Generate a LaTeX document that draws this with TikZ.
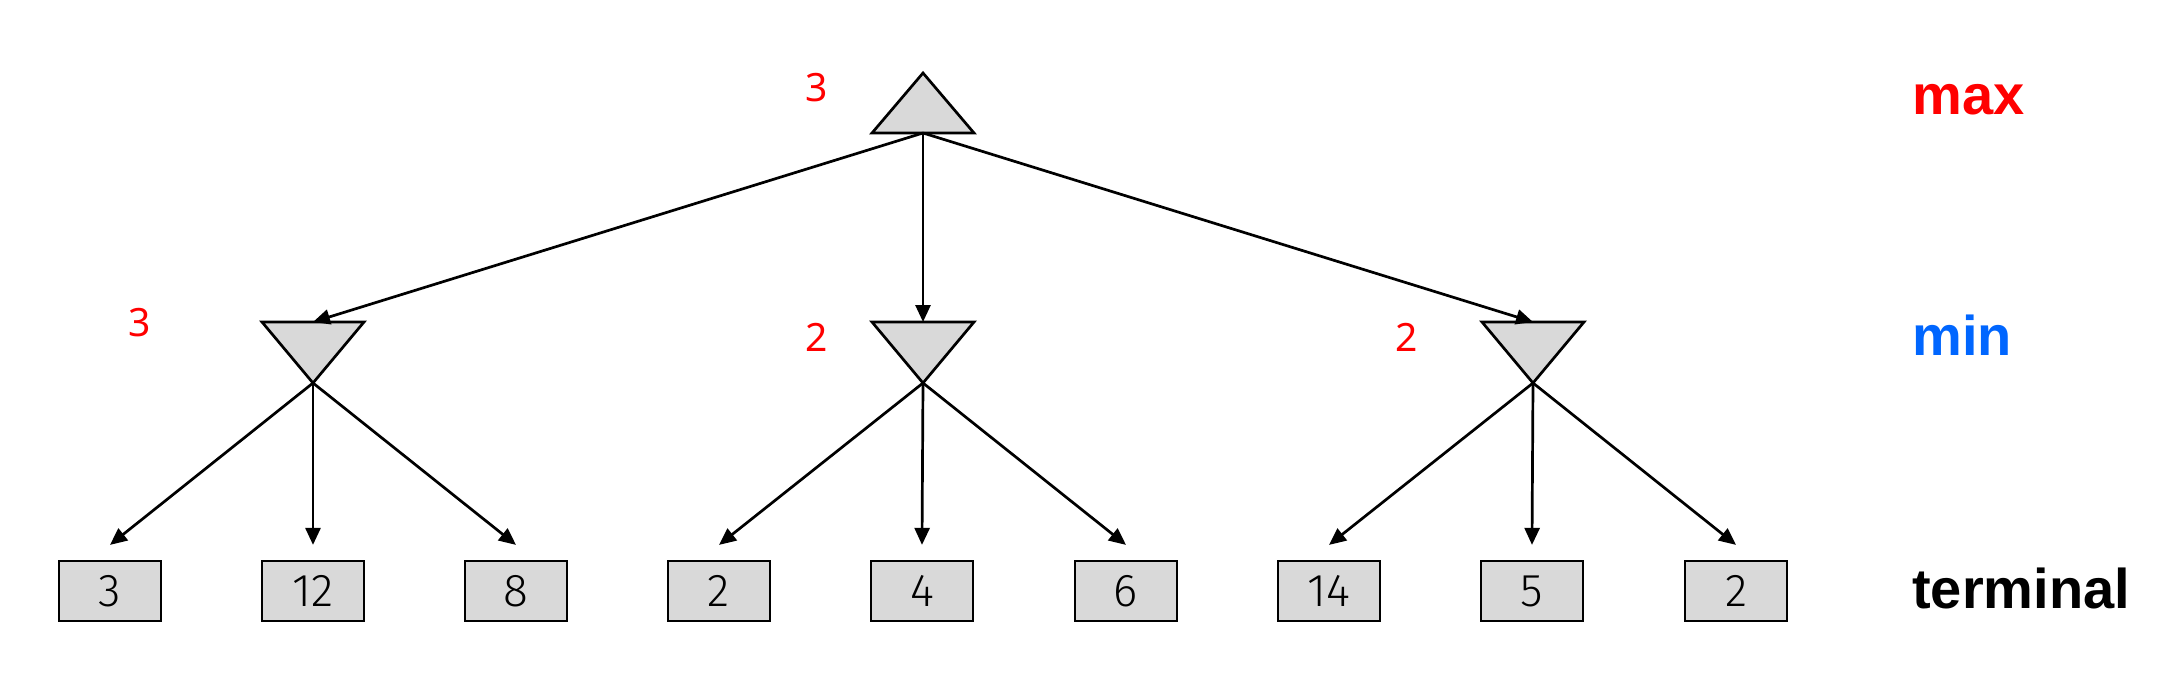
\documentclass[tikz,border=0pt]{standalone}
\usepackage{fontspec}
\setmainfont{Noto Sans}
\newfontfamily\thinfont{Fira Sans Light}
\newfontfamily\lblfont{Liberation Sans}
\usetikzlibrary{arrows.meta,calc}
\definecolor{boxgray}{HTML}{D9D9D9}
\definecolor{lblred}{HTML}{FF0000}
\definecolor{lblblue}{HTML}{0066FF}
\begin{document}
\begin{tikzpicture}[x=1pt,y=-1pt,
  tri/.style={draw=black,fill=boxgray,line width=2.7pt,line join=miter},
  term/.style={draw=black,fill=boxgray,line width=2.2pt,minimum width=102pt,minimum height=60pt,inner sep=0pt,font=\thinfont\fontsize{46}{54}\selectfont},
  conn/.style={line width=2.7pt,-{Triangle[length=17pt,width=15pt]}},
  val/.style={text=lblred,inner sep=0pt,font=\fontsize{39}{46}\selectfont},
  lvl/.style={anchor=base west,inner sep=0pt,font=\lblfont\bfseries\fontsize{56}{66}\selectfont}]
\useasboundingbox (0,0) rectangle (2163,679);
% root (max) triangle
\draw[tri] (923,73) -- (974,133) -- (872,133) -- cycle;
\coordinate (r) at (923,133);
% min triangles
\foreach \n/\x in {m1/313,m2/923,m3/1533}{
  \draw[tri] (\x-51,322) -- (\x+51,322) -- (\x,383) -- cycle;
  \coordinate (\n top) at (\x,322);
  \coordinate (\n) at (\x,383);
}
% terminal boxes
\foreach \n/\x/\v in {t1/110/3,t2/313/12,t3/516/8,t4/719/2,t5/922/4,t6/1126/6,t7/1329/14,t8/1532/5,t9/1736/2}{
  \node[term] (\n) at (\x,591) {\v};
  \coordinate (\n end) at ($(\n.north)+(0,-15)$);
}
% connectors
\foreach \m in {m1,m2,m3}{ \draw[conn] (r) -- (\m top); }
\foreach \m/\t in {m1/t1,m1/t2,m1/t3,m2/t4,m2/t5,m2/t6,m3/t7,m3/t8,m3/t9}{ \draw[conn] (\m) -- (\t end); }
% values
\node[val] (v0) at (817,88) {3};
\node[val] (v1) at (140,323) {3};
\node[val] (v2) at (817,337) {2};
\node[val] (v3) at (1407,337) {2};
% level labels
\node[lvl,text=lblred] (lmax) at (1912,115) {max};
\node[lvl,text=lblblue] (lmin) at (1912,355) {min};
\node[lvl,text=black] (lterm) at (1912,608) {terminal};
\end{tikzpicture}
\end{document}
